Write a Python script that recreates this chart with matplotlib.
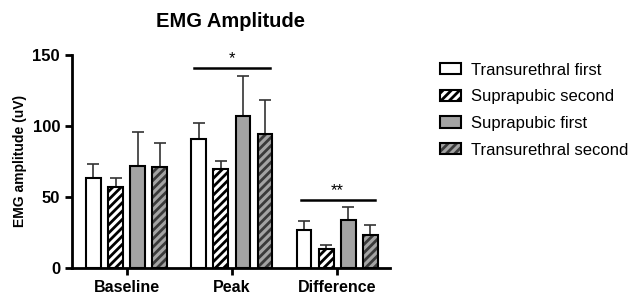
import matplotlib
matplotlib.use("Agg")
import matplotlib.pyplot as plt
import numpy as np

plt.rcParams['font.family'] = ['Liberation Sans', 'DejaVu Sans']
plt.rcParams['hatch.linewidth'] = 2.0

groups = ["Baseline", "Peak", "Difference"]
series = ["Transurethral first", "Suprapubic second", "Suprapubic first", "Transurethral second"]

trans_first = [63, 91, 27]
supra_second = [57, 70, 13]
supra_first = [72, 107, 34]
trans_second = [71, 94, 23]

trans_first_err = [10, 11, 6]
supra_second_err = [6, 5, 3]
supra_first_err = [24, 28, 9]
trans_second_err = [17, 24, 7]

values = [trans_first, supra_second, supra_first, trans_second]
errors = [trans_first_err, supra_second_err, supra_first_err, trans_second_err]
colors = ["white", "white", "#a3a3a3", "#a3a3a3"]
hatches = [None, "////", None, "////"]
hatch_colors = ["black", "black", "black", "#3a3a3a"]

fig = plt.figure(figsize=(6.36, 2.97), dpi=100)
ax = fig.add_axes([0.113, 0.098, 0.5, 0.717])

x = np.arange(len(groups))
pitch = 0.21
width = 0.14
for i, (vals, errs) in enumerate(zip(values, errors)):
    pos = x + (i - 1.5) * pitch
    bars = ax.bar(pos, vals, width, color=colors[i], edgecolor='black', linewidth=1.5,
                  hatch=hatches[i], label=series[i], zorder=2)
    for b in bars:
        b._hatch_color = matplotlib.colors.to_rgba(hatch_colors[i])
    ax.errorbar(pos, vals, yerr=[np.zeros(len(vals)), errs], fmt='none',
                ecolor='#333333', elinewidth=1.2, capsize=4, capthick=1.2, zorder=1)

# significance bars
ax.plot([x[1] - 0.36, x[1] + 0.36], [141, 141], color='black', lw=1.8)
ax.text(x[1], 142, "*", ha='center', va='bottom', fontsize=12)
ax.plot([x[2] - 0.34, x[2] + 0.36], [48, 48], color='black', lw=1.8)
ax.text(x[2], 49, "**", ha='center', va='bottom', fontsize=12)

ax.set_xlim(-0.52, 2.5)
ax.set_ylim(0, 150)
ax.set_yticks([0, 50, 100, 150])
ax.set_xticks(x)
ax.set_xticklabels(groups, fontsize=11.5, fontweight='bold')
for lbl in ax.get_yticklabels():
    lbl.set_fontweight('bold')
    lbl.set_fontsize(12)
ax.set_ylabel("EMG amplitude (uV)", fontsize=10, fontweight='bold')
ax.set_title("EMG Amplitude", fontsize=14.5, fontweight='bold', pad=20)
ax.spines['top'].set_visible(False)
ax.spines['right'].set_visible(False)
ax.spines['left'].set_linewidth(2)
ax.spines['bottom'].set_linewidth(2)
ax.tick_params(width=2, length=5)

fig.legend(loc='upper left', bbox_to_anchor=(0.668, 0.84), frameon=False,
           fontsize=12, handlelength=1.25, handleheight=0.65, labelspacing=0.7,
           handletextpad=0.6)

fig.savefig("out.png", dpi=100)
